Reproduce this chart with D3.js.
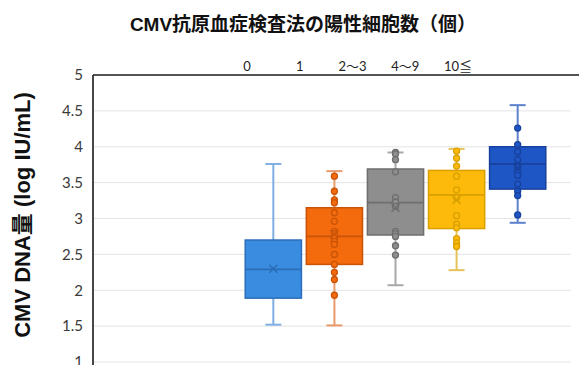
<!DOCTYPE html>
<html>
<head>
<meta charset="utf-8">
<script src="https://cdn.jsdelivr.net/npm/d3@7"></script>
<style>
  html, body { margin: 0; padding: 0; background: #fff; }
  svg { display: block; }
</style>
</head>
<body>
<svg id="chart" width="579" height="365"></svg>
<script>
// Groups: number of CMV antigenemia positive cells
const groups = ["0", "1", "2〜3", "4〜9", "10≦"];
// Box summary per group (log IU/mL)
const mins    = [1.52, 1.51, 2.07, 2.28, 2.94];
const q1s     = [1.89, 2.36, 2.77, 2.86, 3.41];
const medians = [2.29, 2.75, 3.22, 3.33, 3.76];
const q3s     = [2.70, 3.15, 3.69, 3.67, 4.00];
const maxs    = [3.76, 3.66, 3.92, 3.97, 4.58];
const means   = [2.30, 2.78, 3.15, 3.26, 3.70];
// Individual measurements drawn over each box
const points0 = [];
const points1 = [3.59, 3.38, 3.26, 3.22, 3.08, 2.96, 2.82, 2.79, 2.73, 2.68, 2.64, 2.50, 2.36, 2.25, 2.15, 1.93];
const points2 = [3.92, 3.90, 3.82, 3.65, 3.29, 3.23, 3.17, 2.82, 2.79, 2.75, 2.62, 2.49];
const points3 = [3.94, 3.84, 3.73, 3.59, 3.40, 3.29, 3.04, 2.92, 2.87, 2.72, 2.66, 2.61];
const points4 = [4.26, 4.03, 3.93, 3.82, 3.72, 3.60, 3.48, 3.38, 3.32, 3.05];
const yTicks = [1, 1.5, 2, 2.5, 3, 3.5, 4, 4.5, 5];

const fills    = ["#3a8ce0", "#f36b0d", "#8e8e8e", "#fdba0a", "#1e56c6"];
const strokes  = ["#2a6db8", "#c95408", "#6e6e6e", "#d9a000", "#17419c"];
const whiskers = ["#7eaee2", "#e89a6a", "#a8a8a8", "#e6c25a", "#5d82cc"];

const pointSets = [points0, points1, points2, points3, points4];
const boxes = groups.map((g, i) => ({
  g, i, min: mins[i], q1: q1s[i], med: medians[i], q3: q3s[i], max: maxs[i],
  mean: means[i], pts: pointSets[i]
}));

const svg = d3.select("#chart");
const plotLeft = 93, plotTop = 75, plotBottom = 362, gridRight = 571;

const y = d3.scaleLinear().domain([1, 5]).range([plotBottom, plotTop]);
const x = d3.scaleBand().domain(groups).range([244, 547]).paddingInner(0.08).paddingOuter(0.02);
const labelX = d3.scalePoint().domain(groups).range([247, 458]);

// Gridlines
svg.append("g").selectAll("line").data(yTicks.filter(t => t < 5)).join("line")
  .attr("x1", plotLeft + 1).attr("x2", gridRight)
  .attr("y1", d => y(d)).attr("y2", d => y(d))
  .attr("stroke", "#e4e4e4").attr("stroke-width", 1);

// Frame: top and left edges
svg.append("line").attr("x1", plotLeft).attr("x2", 579).attr("y1", plotTop).attr("y2", plotTop)
  .attr("stroke", "#1a1a1a").attr("stroke-width", 1.6);
svg.append("line").attr("x1", plotLeft).attr("x2", plotLeft).attr("y1", plotTop).attr("y2", 365)
  .attr("stroke", "#1a1a1a").attr("stroke-width", 1.6);

// Y axis tick labels
const yAxis = d3.axisLeft(y).tickValues(yTicks).tickSize(0).tickPadding(10)
  .tickFormat(d3.format("~g"));
const ya = svg.append("g").attr("transform", `translate(${plotLeft},0)`).call(yAxis);
ya.select(".domain").remove();
ya.selectAll("text").attr("font-family", "Lato, 'Noto Sans', sans-serif")
  .attr("font-size", 15).attr("fill", "#3a3a3a");

// Category labels along the top
svg.append("g").selectAll("text").data(groups).join("text")
  .attr("x", d => labelX(d)).attr("y", 71)
  .attr("text-anchor", "middle")
  .attr("font-family", "Lato, 'Noto Sans CJK JP', sans-serif")
  .attr("font-size", 13).attr("fill", "#222")
  .text(d => d);

// Title
svg.append("text").attr("x", 303).attr("y", 31).attr("text-anchor", "middle")
  .attr("font-family", "'Liberation Sans', 'Noto Sans CJK JP', sans-serif")
  .attr("font-weight", "bold").attr("font-size", 19).attr("fill", "#111")
  .text("CMV抗原血症検査法の陽性細胞数（個）");

// Y axis title
svg.append("text").attr("transform", "translate(30,215) rotate(-90)")
  .attr("text-anchor", "middle")
  .attr("font-family", "'Liberation Sans', 'Noto Sans CJK JP', sans-serif")
  .attr("font-weight", "bold").attr("font-size", 22).attr("fill", "#111")
  .text("CMV DNA量 (log IU/mL)");

// Boxes
const bw = x.bandwidth();
const gBox = svg.append("g").selectAll("g").data(boxes).join("g")
  .attr("transform", d => `translate(${x(d.g) + bw / 2},0)`);

// Whiskers
gBox.append("line").attr("x1", 0).attr("x2", 0)
  .attr("y1", d => y(d.max)).attr("y2", d => y(d.q3))
  .attr("stroke", d => whiskers[d.i]).attr("stroke-width", 2);
gBox.append("line").attr("x1", 0).attr("x2", 0)
  .attr("y1", d => y(d.q1)).attr("y2", d => y(d.min))
  .attr("stroke", d => whiskers[d.i]).attr("stroke-width", 2);
// Whisker caps
["max", "min"].forEach(k => {
  gBox.append("line").attr("x1", -8).attr("x2", 8)
    .attr("y1", d => y(d[k])).attr("y2", d => y(d[k]))
    .attr("stroke", d => whiskers[d.i]).attr("stroke-width", 2);
});

// Box body
gBox.append("rect")
  .attr("x", -bw / 2).attr("width", bw)
  .attr("y", d => y(d.q3)).attr("height", d => y(d.q1) - y(d.q3))
  .attr("fill", d => fills[d.i]).attr("stroke", d => strokes[d.i]).attr("stroke-width", 1.5);

// Median
gBox.append("line").attr("x1", -bw / 2).attr("x2", bw / 2)
  .attr("y1", d => y(d.med)).attr("y2", d => y(d.med))
  .attr("stroke", d => strokes[d.i]).attr("stroke-width", 1.8);

// Data points
gBox.each(function(d) {
  d3.select(this).selectAll("circle").data(d.pts).join("circle")
    .attr("cx", 0).attr("cy", v => y(v)).attr("r", 3)
    .attr("fill", fills[d.i]).attr("stroke", strokes[d.i]).attr("stroke-width", 1.3);
});

// Mean marker
const m = 4;
gBox.append("path")
  .attr("d", d => `M${-m},${y(d.mean) - m}L${m},${y(d.mean) + m}M${-m},${y(d.mean) + m}L${m},${y(d.mean) - m}`)
  .attr("stroke", d => strokes[d.i]).attr("stroke-width", 1.6).attr("fill", "none");
</script>
</body>
</html>
